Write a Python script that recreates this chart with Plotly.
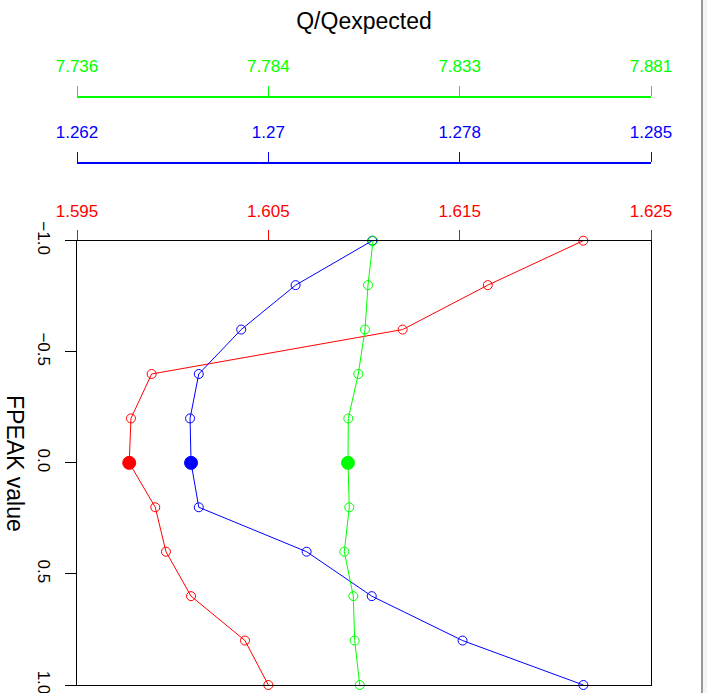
import plotly.graph_objects as go

# ---- data ----
fpeak = [-1.0, -0.8, -0.6, -0.4, -0.2, 0.0, 0.2, 0.4, 0.6, 0.8, 1.0]

q_red = [1.62146, 1.61647, 1.61202, 1.59890, 1.59782, 1.59773,
         1.59909, 1.59965, 1.60096, 1.60378, 1.60500]
q_blue = [1.27413, 1.27106, 1.26888, 1.26718, 1.26683, 1.26687,
          1.26718, 1.27150, 1.27411, 1.27775, 1.28259]
q_green = [7.81087, 7.80961, 7.80885, 7.80716, 7.80464, 7.80456,
           7.80489, 7.80363, 7.80590, 7.80625, 7.80752]

red_range = [1.5950, 1.6250]
blue_range = [1.2623, 1.2853]
green_range = [7.7362, 7.8810]

red_ticks = ["1.595", "1.605", "1.615", "1.625"]
blue_ticks = ["1.262", "1.27", "1.278", "1.285"]
green_ticks = ["7.736", "7.784", "7.833", "7.881"]

y_tickvals = [-1.0, -0.5, 0.0, 0.5, 1.0]
y_ticktext = ["\u22121.0", "\u22120.5", "0.0", "0.5", "1.0"]

title_text = "Q/Qexpected"
ylabel_text = "FPEAK value"

# ---- figure geometry ----
W, H = 707, 693
ML, MR, MT, MB = 77, 56, 40, 8
PH = H - MT - MB
plot_top_px = 240.7
blue_px = 162.7
green_px = 96.7


def ypaper(px):
    return (H - MB - px) / PH


def xpaper(px):
    return (px - ML) / (W - ML - MR)


def even_ticks(rng, n):
    return [rng[0] + (rng[1] - rng[0]) * i / (n - 1) for i in range(n)]


FONT = "Liberation Sans, Arial, Helvetica, sans-serif"

fig = go.Figure()

series = [
    (q_red, "#FF0000", "x"),
    (q_blue, "#0000FF", "x2"),
    (q_green, "#00FF00", "x3"),
]
for vals, col, xa in series:
    symbols = ["circle" if y == 0 else "circle-open" for y in fpeak]
    sizes = [13 if y == 0 else 9 for y in fpeak]
    fig.add_trace(go.Scatter(
        x=vals, y=fpeak, xaxis=xa, yaxis="y",
        mode="lines+markers",
        line=dict(color=col, width=1),
        marker=dict(color=col, symbol=symbols, size=sizes, opacity=1,
                    line=dict(color=col, width=1)),
        showlegend=False, cliponaxis=False,
    ))

common_x = dict(showgrid=False, zeroline=False, ticks="outside", ticklen=10,
                tickwidth=1.4, side="top", fixedrange=True)

fig.update_layout(
    width=W, height=H,
    margin=dict(l=ML, r=MR, t=MT, b=MB, autoexpand=False),
    paper_bgcolor="white", plot_bgcolor="white",
    font=dict(family=FONT, size=17, color="black"),
    title=dict(text=title_text, x=0.5, xref="paper", xanchor="center",
               y=1 - 21 / H, yref="container", yanchor="middle",
               font=dict(family=FONT, size=23, color="black")),
    xaxis=dict(**common_x, range=red_range, anchor="y",
               tickvals=even_ticks(red_range, 4), ticktext=red_ticks,
               tickcolor="#FF0000", tickfont=dict(color="#FF0000", size=17),
               showline=True, linecolor="black", linewidth=1.3, mirror=True,
               ticklabelstandoff=6),
    xaxis2=dict(**common_x, range=blue_range, overlaying="x", anchor="free",
                position=ypaper(blue_px),
                tickvals=even_ticks(blue_range, 4), ticktext=blue_ticks,
                tickcolor="#0000FF", tickfont=dict(color="#0000FF", size=17),
                showline=True, linecolor="#0000FF", linewidth=1.5,
                ticklabelstandoff=7),
    xaxis3=dict(**common_x, range=green_range, overlaying="x", anchor="free",
                position=ypaper(green_px),
                tickvals=even_ticks(green_range, 4), ticktext=green_ticks,
                tickcolor="#00FF00", tickfont=dict(color="#00FF00", size=17),
                showline=True, linecolor="#00FF00", linewidth=1.5,
                ticklabelstandoff=7),
    yaxis=dict(domain=[0, ypaper(plot_top_px)], range=[1.0, -1.0],
               autorange=False, showgrid=False, zeroline=False,
               tickvals=y_tickvals, ticktext=y_ticktext, tickangle=90,
               ticks="outside", ticklen=11, tickwidth=1.3, tickcolor="black",
               tickfont=dict(size=17, color="black"),
               ticklabeloverflow="allow", automargin=False,
               showline=True, linecolor="black", linewidth=1.3, mirror=True,
               fixedrange=True, ticklabelstandoff=6),
    annotations=[dict(text=ylabel_text, textangle=90, showarrow=False,
                      xref="paper", yref="paper",
                      x=xpaper(15), y=ypaper(463),
                      xanchor="center", yanchor="middle",
                      font=dict(family=FONT, size=23, color="black"))],
    shapes=[
        dict(type="rect", xref="paper", yref="paper",
             x0=xpaper(702), x1=xpaper(712), y0=ypaper(-10), y1=ypaper(H + 10),
             fillcolor="#f4f4f4", line=dict(width=0), layer="above"),
        dict(type="line", xref="paper", yref="paper",
             x0=xpaper(702), x1=xpaper(702), y0=ypaper(-10), y1=ypaper(H + 10),
             line=dict(color="#9a9a9a", width=2), layer="above"),
    ],
)

fig.write_html("out.html")
